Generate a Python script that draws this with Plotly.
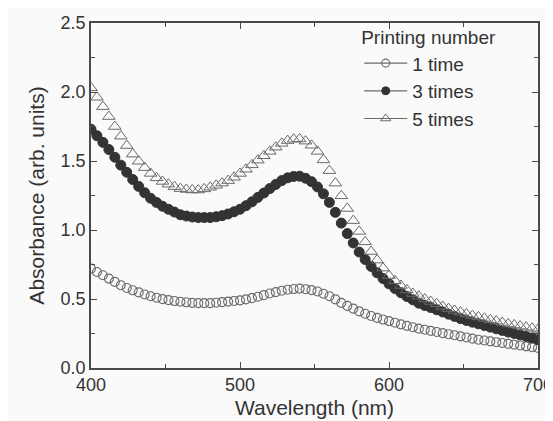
import plotly.graph_objects as go

wavelength = list(range(400, 701, 4))

one_time = [0.720, 0.696, 0.672, 0.648, 0.624, 0.600, 0.580, 0.563, 0.548, 0.533,
            0.520, 0.509, 0.499, 0.492, 0.485, 0.480, 0.476, 0.472, 0.470, 0.470,
            0.470, 0.473, 0.477, 0.481, 0.486, 0.490, 0.497, 0.506, 0.516, 0.528,
            0.540, 0.550, 0.560, 0.567, 0.572, 0.575, 0.571, 0.564, 0.554, 0.538,
            0.520, 0.497, 0.472, 0.450, 0.430, 0.410, 0.393, 0.377, 0.363, 0.351,
            0.340, 0.328, 0.316, 0.305, 0.295, 0.285, 0.277, 0.269, 0.261, 0.253,
            0.245, 0.237, 0.229, 0.221, 0.213, 0.205, 0.199, 0.193, 0.187, 0.181,
            0.175, 0.169, 0.163, 0.157, 0.151, 0.145]

three_times = [1.730, 1.683, 1.635, 1.583, 1.527, 1.470, 1.418, 1.366, 1.316, 1.270,
               1.230, 1.200, 1.172, 1.150, 1.130, 1.110, 1.101, 1.094, 1.090, 1.090,
               1.090, 1.096, 1.104, 1.116, 1.132, 1.150, 1.176, 1.204, 1.236, 1.268,
               1.300, 1.330, 1.358, 1.378, 1.388, 1.390, 1.375, 1.350, 1.312, 1.262,
               1.200, 1.128, 1.050, 0.974, 0.906, 0.840, 0.786, 0.736, 0.690, 0.648,
               0.610, 0.576, 0.546, 0.518, 0.494, 0.470, 0.453, 0.438, 0.422, 0.406,
               0.390, 0.374, 0.358, 0.344, 0.332, 0.320, 0.308, 0.296, 0.284, 0.272,
               0.260, 0.250, 0.240, 0.229, 0.217, 0.205]

five_times = [2.030, 1.962, 1.894, 1.822, 1.750, 1.680, 1.612, 1.550, 1.498, 1.452,
              1.410, 1.378, 1.352, 1.332, 1.314, 1.300, 1.294, 1.290, 1.290, 1.298,
              1.310, 1.324, 1.340, 1.358, 1.382, 1.410, 1.440, 1.472, 1.506, 1.538,
              1.570, 1.600, 1.628, 1.648, 1.658, 1.660, 1.644, 1.614, 1.570, 1.508,
              1.430, 1.340, 1.248, 1.156, 1.068, 0.990, 0.914, 0.844, 0.782, 0.724,
              0.670, 0.632, 0.598, 0.566, 0.540, 0.520, 0.500, 0.482, 0.466, 0.446,
              0.430, 0.417, 0.405, 0.392, 0.380, 0.370, 0.360, 0.350, 0.340, 0.330,
              0.320, 0.312, 0.304, 0.296, 0.288, 0.280]

series_names = ["1 time", "3 times", "5 times"]
x_ticks = [400, 500, 600, 700]
y_ticks = [0.0, 0.5, 1.0, 1.5, 2.0, 2.5]

axis_col = "#4a4a4a"
mk_col = "#6a6a6a"
txt_col = "#333333"
bg = "#fafafa"
font_family = "Liberation Sans, Arial, sans-serif"

styles = [
    dict(symbol="circle-open", size=9, color=mk_col, line=dict(width=1.1, color=mk_col)),
    dict(symbol="circle", size=10, color="#333333", line=dict(width=1, color="#333333")),
    dict(symbol="triangle-up-open", size=11, color=mk_col, line=dict(width=1.0, color=mk_col)),
]
legend_styles = [
    dict(symbol="circle-open", size=8, color=mk_col, line=dict(width=1.1, color=mk_col)),
    dict(symbol="circle", size=8, color="#333333", line=dict(width=1, color="#333333")),
    dict(symbol="triangle-up-open", size=9, color=mk_col, line=dict(width=1.0, color=mk_col)),
]

fig = go.Figure()
for ys, st in zip([one_time, three_times, five_times], styles):
    fig.add_trace(go.Scatter(x=wavelength, y=ys, mode="markers", marker=st,
                             showlegend=False, hoverinfo="skip"))

for name, st in zip(series_names, legend_styles):
    fig.add_trace(go.Scatter(x=[None], y=[None], mode="lines+markers", name=name,
                             marker=st, line=dict(color=mk_col, width=1.2)))

axis_common = dict(
    showgrid=False, zeroline=False, showline=True, linecolor=axis_col, linewidth=1.5,
    mirror="ticks", ticks="inside", ticklen=6, tickwidth=1.3, tickcolor=axis_col,
    tickfont=dict(size=18, color=txt_col, family=font_family),
)

fig.update_xaxes(range=[400, 700], tickvals=x_ticks, ticktext=[str(v) for v in x_ticks],
                 minor=dict(ticks="inside", ticklen=4, tickwidth=1.2, tickcolor=axis_col, dtick=50),
                 title=dict(text="Wavelength (nm)", font=dict(size=21, color=txt_col, family=font_family), standoff=6),
                 **axis_common)
fig.update_yaxes(range=[0, 2.5], tickvals=y_ticks, ticktext=[f"{v:.1f}" for v in y_ticks],
                 minor=dict(ticks="inside", ticklen=4, tickwidth=1.2, tickcolor=axis_col, dtick=0.25),
                 title=dict(text="Absorbance (arb. units)", font=dict(size=21, color=txt_col, family=font_family), standoff=10),
                 **axis_common)

fig.update_layout(
    width=553, height=421,
    margin=dict(l=83, r=23, t=15, b=61, autoexpand=False),
    paper_bgcolor=bg, plot_bgcolor=bg,
    font=dict(family=font_family, color=txt_col),
    legend=dict(x=0.6, y=1.01, xanchor="left", yanchor="top", bgcolor="rgba(0,0,0,0)",
                title=dict(text="Printing number", font=dict(size=19, color=txt_col)),
                font=dict(size=19, color=txt_col), tracegroupgap=0, itemwidth=43),
)

fig.write_html("out.html")
